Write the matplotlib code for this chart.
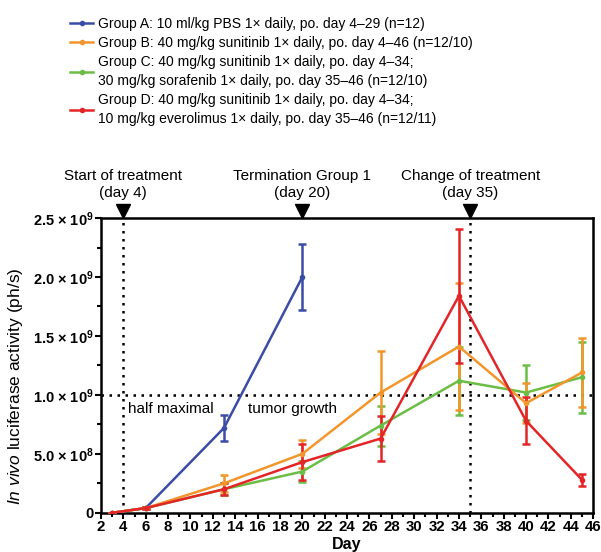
import numpy as np
import matplotlib
matplotlib.use("Agg")
import matplotlib.pyplot as plt
from matplotlib.ticker import MultipleLocator, FixedLocator
from matplotlib.lines import Line2D

plt.rcParams['font.family'] = ['Liberation Sans', 'DejaVu Sans']
plt.rcParams['mathtext.fontset'] = 'custom'
plt.rcParams['mathtext.rm'] = 'Liberation Sans:bold'
plt.rcParams['mathtext.it'] = 'Liberation Sans:italic'
plt.rcParams['mathtext.bf'] = 'Liberation Sans:bold'

# data (values in units of 1e9 ph/s)
days_a = [3, 6, 13, 20]
mean_a = [0.0, 0.04, 0.72, 2.0]
err_a = [0.0, 0.01, 0.11, 0.28]

days_bcd = [3, 6, 13, 20, 27, 34, 40, 45]
mean_b = [0.0, 0.04, 0.25, 0.5, 1.02, 1.41, 0.93, 1.19]
err_b = [0.0, 0.01, 0.07, 0.12, 0.35, 0.54, 0.17, 0.29]
mean_c = [0.0, 0.04, 0.2, 0.35, 0.74, 1.12, 1.02, 1.15]
err_c = [0.0, 0.01, 0.05, 0.09, 0.17, 0.29, 0.23, 0.3]
mean_d = [0.0, 0.04, 0.2, 0.43, 0.63, 1.84, 0.78, 0.28]
err_d = [0.0, 0.01, 0.05, 0.15, 0.19, 0.57, 0.2, 0.05]

labels = [
    "Group A: 10 ml/kg PBS 1\u00d7 daily, po. day 4\u201329 (n=12)",
    "Group B: 40 mg/kg sunitinib 1\u00d7 daily, po. day 4\u201346 (n=12/10)",
    "Group C: 40 mg/kg sunitinib 1\u00d7 daily, po. day 4\u201334;\n30 mg/kg sorafenib 1\u00d7 daily, po. day 35\u201346 (n=12/10)",
    "Group D: 40 mg/kg sunitinib 1\u00d7 daily, po. day 4\u201334;\n10 mg/kg everolimus 1\u00d7 daily, po. day 35\u201346 (n=12/11)",
]
colors = ['#3a4ca6', '#f2962b', '#6cbd45', '#e42528']

events = [4, 20, 35]
event_text = ["Start of treatment\n(day 4)", "Termination Group 1\n(day 20)",
              "Change of treatment\n(day 35)"]

fig = plt.figure(figsize=(6.01, 5.52), dpi=100)
ax = fig.add_axes([0.168, 0.071, 0.819, 0.534])

series = [(days_a, mean_a, err_a), (days_bcd, mean_c, err_c),
          (days_bcd, mean_b, err_b), (days_bcd, mean_d, err_d)]
order = [0, 2, 1, 3]
for (x, m, e), ci in zip(series, order):
    ax.errorbar(x, np.array(m) * 1e9, yerr=np.array(e) * 1e9, color=colors[ci],
                lw=1.8, elinewidth=1.8, capsize=3, capthick=1.8,
                marker='o', markersize=3, zorder=3)

# reference lines
ax.axhline(1.0e9, color='black', ls=(0, (1, 2.2)), lw=1.8, zorder=2)
for d in [4, 35]:
    ax.axvline(d, color='black', ls=(0, (1, 2.2)), lw=1.8, zorder=2)

trans = ax.get_xaxis_transform()
for d, t in zip(events, event_text):
    ax.plot(d, 1.025, marker='v', color='black', markersize=10,
            transform=trans, clip_on=False)
    ax.text(d, 1.06, t, transform=trans, ha='center', va='bottom',
            fontsize=11, linespacing=1.35)

ax.text(4.4, 0.88e9, "half maximal", fontsize=11, va='center')
ax.text(15.1, 0.88e9, "tumor growth", fontsize=11, va='center')

ax.set_xlim(2, 46)
ax.set_ylim(0, 2.5e9)
ax.xaxis.set_major_locator(MultipleLocator(2))
ax.xaxis.set_minor_locator(MultipleLocator(1))
ax.yaxis.set_major_locator(FixedLocator([0, 0.5e9, 1.0e9, 1.5e9, 2.0e9, 2.5e9]))
ax.yaxis.set_minor_locator(MultipleLocator(0.25e9))
ax.set_yticklabels(["0", "5.0 \u00d7 10$^{8}$", "1.0 \u00d7 10$^{9}$",
                    "1.5 \u00d7 10$^{9}$", "2.0 \u00d7 10$^{9}$", "2.5 \u00d7 10$^{9}$"])
for lab in ax.get_xticklabels() + ax.get_yticklabels():
    lab.set_fontweight('bold')
ax.tick_params(axis='both', which='major', length=4, width=1.5, labelsize=10.5, pad=1)
ax.tick_params(axis='x', which='major', labelsize=10.8)
ax.tick_params(axis='both', which='minor', length=3, width=1.5)
for s in ax.spines.values():
    s.set_linewidth(1.8)

ax.set_xlabel("Day", fontsize=11.5, fontweight='bold', labelpad=1)
ax.xaxis.set_label_coords(0.5, -0.082)
ax.set_ylabel("$In\\ vivo$ luciferase activity (ph/s)", fontsize=12.5)
ax.yaxis.set_label_coords(-0.155, 0.43)

handles = [Line2D([0], [0], color=c, lw=1.8, marker='o', markersize=3) for c in colors]
leg = fig.legend(handles, labels, loc='upper left', bbox_to_anchor=(0.108, 0.98),
                 frameon=False, fontsize=10, handlelength=1.6, handletextpad=0.4,
                 labelspacing=0.38, borderaxespad=0)
for t in leg.get_texts():
    t.set_linespacing(1.45)

fig.savefig("out.png", dpi=100)
